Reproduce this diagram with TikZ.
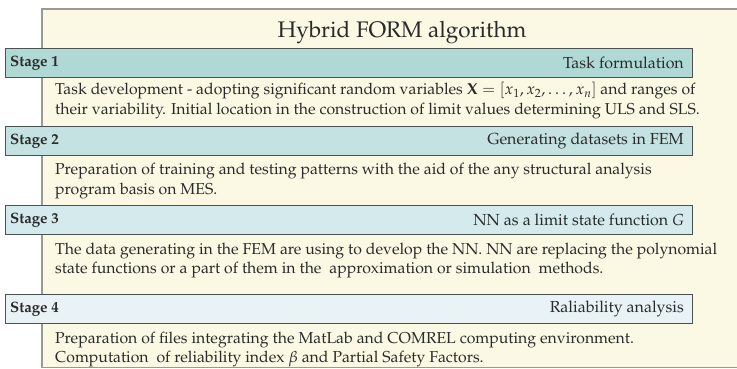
\documentclass[tikz,border=0pt]{standalone}
\usepackage[T1]{fontenc}
\usepackage{mathpazo}
\definecolor{panel}{HTML}{FBF8E3}
\definecolor{panelline}{HTML}{9A9A94}
\definecolor{barline}{HTML}{4A5352}
\definecolor{barA}{HTML}{B0D9D6}
\definecolor{barB}{HTML}{C4E2E1}
\definecolor{barC}{HTML}{D4EAEC}
\definecolor{barD}{HTML}{E9F3F6}
\definecolor{ink}{HTML}{2A2A2A}
\newcommand{\bodyfont}{\fontsize{15.8pt}{19pt}\selectfont}
\tikzset{
  stagebar/.style={draw=barline, line width=1pt, minimum width=687pt, minimum height=29pt, anchor=north west, inner sep=0pt},
  stagename/.style={anchor=west, font=\fontsize{15}{17}\selectfont\bfseries, text=ink, inner sep=0pt},
  stagetitle/.style={anchor=east, font=\fontsize{16}{18}\selectfont, text=ink, inner sep=0pt},
  bodyline/.style={anchor=base west, font=\bodyfont, text=ink, inner sep=0pt},
}
\begin{document}
\begin{tikzpicture}[x=1pt,y=-1pt]
\useasboundingbox (0,0) rectangle (737,369);
\fill[white] (0,0) rectangle (737,369);
\begin{scope}
\clip (0,0) rectangle (737,369);
\draw[panelline, line width=1.2pt, fill=panel] (42,9) rectangle (750,367.5);
\end{scope}
\node[font=\fontsize{22.5}{26}\selectfont, text=ink, anchor=base] (title) at (402,38) {Hybrid FORM algorithm};

% Stage 1
\node[stagebar, fill=barA] (s1) at (5,48) {};
\node[stagename] (s1n) at ([xshift=5pt]s1.west) {Stage 1};
\node[stagetitle] (s1t) at ([xshift=-9pt]s1.east) {Task formulation};
\node[bodyline] (s1a) at (55,95) {Task development - adopting significant random variables $\mathbf{X}=[x_1, x_2, \ldots, x_n]$ and ranges of};
\node[bodyline] (s1b) at (55,114) {their variability. Initial location in the construction of limit values determining ULS and SLS.};

% Stage 2
\node[stagebar, fill=barB] (s2) at (5,126) {};
\node[stagename] (s2n) at ([xshift=5pt]s2.west) {Stage 2};
\node[stagetitle] (s2t) at ([xshift=-9pt]s2.east) {Generating datasets in FEM};
\node[bodyline] (s2a) at (55,175) {Preparation of training and testing patterns with the aid of the any structural analysis};
\node[bodyline] (s2b) at (55,194) {program basis on MES.};

% Stage 3
\node[stagebar, fill=barC] (s3) at (5,205) {};
\node[stagename] (s3n) at ([xshift=5pt]s3.west) {Stage 3};
\node[stagetitle] (s3t) at ([xshift=-9pt]s3.east) {NN as a limit state function \textit{G}};
\node[bodyline] (s3a) at (55,254) {The data generating in the FEM are using to develop the NN. NN are replacing the polynomial};
\node[bodyline] (s3b) at (55,273) {state functions or a part of them in the\ \ approximation or simulation\ \ methods.};

% Stage 4
\node[stagebar, fill=barD] (s4) at (5,294) {};
\node[stagename] (s4n) at ([xshift=5pt]s4.west) {Stage 4};
\node[stagetitle] (s4t) at ([xshift=-9pt]s4.east) {Raliability analysis};
\node[bodyline] (s4a) at (55,343) {Preparation of files integrating the MatLab and COMREL computing environment.};
\node[bodyline] (s4b) at (55,362) {Computation\ \ of reliability index $\beta$ and Partial Safety Factors.};
\end{tikzpicture}
\end{document}
